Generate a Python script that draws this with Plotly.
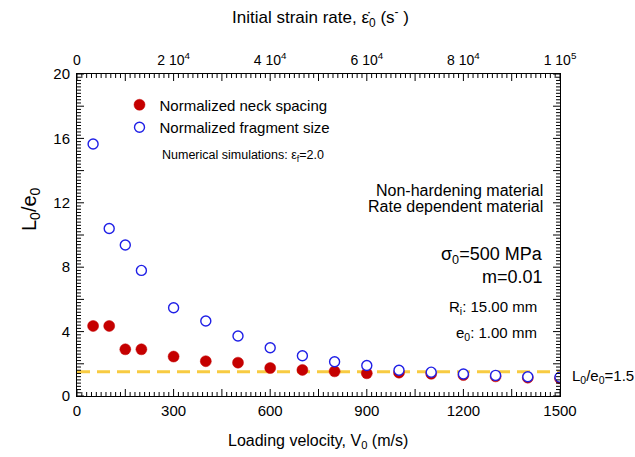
import numpy as np
import plotly.graph_objects as go

# Loading velocity V0 (m/s) of each simulation
velocity = [50, 100, 150, 200, 300, 400, 500, 600, 700, 800, 900, 1000, 1100, 1200, 1300, 1400, 1500]
# Normalized neck spacing L0/e0
neck_spacing = [4.35, 4.35, 2.9, 2.9, 2.45, 2.16, 2.07, 1.74, 1.62, 1.53, 1.41, 1.45, 1.38, 1.3, 1.22, 1.14, 1.1]
# Normalized fragment size L0/e0
fragment_size = [15.65, 10.4, 9.38, 7.8, 5.48, 4.66, 3.73, 3.0, 2.5, 2.13, 1.89, 1.6, 1.48, 1.37, 1.28, 1.2, 1.17]

# Reference level L0/e0 = 1.5
ref_velocity = [0, 1500]
ref_level = 1.5

# Axis ranges, tick spacing and tick labels
v_range = [0, 1500]
l_range = [0, 20]
rate_range = [0, 100000]
v_major, v_minor = 150, 15
l_major, l_minor = 2, 0.2
x_labels = [0, 300, 600, 900, 1200, 1500]
y_labels = [0, 4, 8, 12, 16, 20]
rate_ticks = [0, 20000, 40000, 60000, 80000, 100000]
rate_labels = ["0", "2 10<sup>4</sup>", "4 10<sup>4</sup>", "6 10<sup>4</sup>",
               "8 10<sup>4</sup>", "1 10<sup>5</sup>"]

FONT = "Arial, Liberation Sans, sans-serif"
RED = "#C50000"
BLUE = "#1F1FE6"

W, H = 635, 457
ML, MR, MT, MB = 77, 75, 74, 61
plot_w = W - ML - MR
plot_h = H - MT - MB
MAJOR_LEN, MINOR_LEN = 7, 4

fig = go.Figure()

fig.add_trace(go.Scatter(
    x=ref_velocity, y=[ref_level] * len(ref_velocity), mode="lines",
    line=dict(color="#F8CB42", width=3, dash="13px,7px"),
    showlegend=False, hoverinfo="skip",
))
fig.add_trace(go.Scatter(
    x=velocity, y=neck_spacing, mode="markers", name="Normalized neck spacing",
    marker=dict(symbol="circle", size=11, color=RED, line=dict(color=RED, width=0.5)),
))
fig.add_trace(go.Scatter(
    x=velocity, y=fragment_size, mode="markers", name="Normalized fragment size",
    marker=dict(symbol="circle", size=10, color="white", line=dict(color=BLUE, width=1.4)),
))


# Inside tick marks on all four sides as line shapes
def tick_positions(lo, hi, minor, major):
    vals = np.round(np.arange(lo, hi + minor / 2, minor), 6)
    rem = np.abs(np.mod(vals + major / 2, major) - major / 2)
    lens = np.where(rem < 1e-6, MAJOR_LEN, MINOR_LEN)
    return vals, lens


tick_shapes = []
xv, xlen = tick_positions(v_range[0], v_range[1], v_minor, v_major)
for v, n in zip(xv, xlen):
    f = n / plot_h
    for y0, y1 in ((0, f), (1, 1 - f)):
        tick_shapes.append(dict(type="line", xref="x", yref="paper", x0=v, x1=v,
                                y0=y0, y1=y1, layer="above",
                                line=dict(color="black", width=1)))
yv, ylen = tick_positions(l_range[0], l_range[1], l_minor, l_major)
for v, n in zip(yv, ylen):
    f = n / plot_w
    for x0, x1 in ((0, f), (1, 1 - f)):
        tick_shapes.append(dict(type="line", xref="paper", yref="y", x0=x0, x1=x1,
                                y0=v, y1=v, layer="above",
                                line=dict(color="black", width=1)))

# Overlaid label axes
label_common = dict(ticks="", showline=False, showgrid=False, zeroline=False)
x_helpers = {
    "xaxis2": dict(side="top", range=rate_range, tickmode="array", tickvals=rate_ticks,
                   ticktext=rate_labels, ticklabelstandoff=5,
                   tickfont=dict(family=FONT, size=14, color="black")),
    "xaxis3": dict(side="bottom", range=v_range, tickmode="array", tickvals=x_labels,
                   ticklabelstandoff=4,
                   tickfont=dict(family=FONT, size=15, color="black")),
}
y_helpers = {
    "yaxis2": dict(side="left", range=l_range, tickmode="array", tickvals=y_labels,
                   ticklabelstandoff=6,
                   tickfont=dict(family=FONT, size=15, color="black")),
}

layout_axes = {}
for name, spec in x_helpers.items():
    layout_axes[name] = dict(overlaying="x", anchor="y", **label_common, **spec)
    fig.add_trace(go.Scatter(
        x=spec["range"], y=l_range, xaxis="x" + name[5:], yaxis="y", mode="markers",
        marker=dict(opacity=0), showlegend=False, hoverinfo="skip",
    ))
for name, spec in y_helpers.items():
    layout_axes[name] = dict(overlaying="y", anchor="x", **label_common, **spec)
    fig.add_trace(go.Scatter(
        x=v_range, y=spec["range"], xaxis="x", yaxis="y" + name[5:], mode="markers",
        marker=dict(opacity=0), showlegend=False, hoverinfo="skip",
    ))

frame = dict(showline=True, linecolor="black", linewidth=1, mirror=True, ticks="",
             showticklabels=False, showgrid=False, zeroline=False)

fig.update_layout(
    width=W, height=H,
    margin=dict(l=ML, r=MR, t=MT, b=MB),
    paper_bgcolor="white", plot_bgcolor="white",
    font=dict(family=FONT, color="black"),
    xaxis=dict(range=v_range, **frame),
    yaxis=dict(range=l_range, **frame),
    legend=dict(
        x=0.088, y=0.955, xanchor="left", yanchor="top",
        bgcolor="rgba(0,0,0,0)", borderwidth=0,
        font=dict(family=FONT, size=15, color="black"),
        tracegroupgap=0, itemwidth=30,
    ),
    showlegend=True,
    shapes=tick_shapes,
    **layout_axes,
)

# text items: (text, x px, y px, size, xanchor, angle)
texts = [
    ("Initial strain rate, ε̇<sub>0</sub> (s<sup>-</sup> )", 320, 18, 17, "center", 0),
    ("Loading velocity, V<sub>0</sub> (m/s)", 318, 441, 16, "center", 0),
    ("L<sub>0</sub>/e<sub>0</sub>", 30, 209, 20, "center", -90),
    ("Numerical simulations: ε<sub>f</sub>=2.0", 160, 156, 12.5, "left", 0),
    ("Non-hardening material", 545, 190, 16, "right", 0),
    ("Rate dependent material", 545, 207, 16, "right", 0),
    ("σ<sub>0</sub>=500 MPa", 545, 255, 18, "right", 0),
    ("m=0.01", 545, 277, 18, "right", 0),
    ("R<sub>i</sub>: 15.00 mm", 539, 307, 15, "right", 0),
    ("e<sub>0</sub>: 1.00 mm", 539, 333, 15, "right", 0),
    ("L<sub>0</sub>/e<sub>0</sub>=1.5", 570, 376, 15, "left", 0),
]
ann_list = []
for text, px, py, size, xanchor, angle in texts:
    ann_list.append(dict(
        text=text, x=(px - ML) / plot_w, y=(H - MB - py) / plot_h,
        xref="paper", yref="paper", xanchor=xanchor, yanchor="middle",
        showarrow=False, textangle=angle,
        font=dict(family=FONT, size=size, color="black"),
    ))
fig.update_layout(annotations=ann_list)

fig.write_html("out.html")
